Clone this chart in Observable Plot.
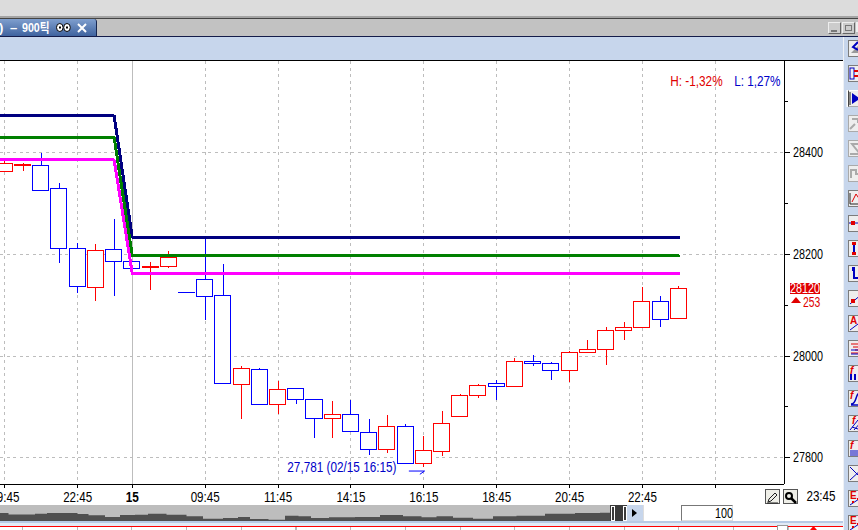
<!DOCTYPE html>
<html><head><meta charset="utf-8">
<script src="https://cdn.jsdelivr.net/npm/d3@7"></script>
<script src="https://cdn.jsdelivr.net/npm/@observablehq/plot@0.6"></script>
<style>
html,body{margin:0;padding:0;background:#fff;overflow:hidden}
body{width:858px;height:530px;position:relative;font-family:"Liberation Sans",sans-serif}
.a{position:absolute}
#chart svg,#nav svg{display:block;overflow:hidden}
.btn{position:absolute;left:848px;width:14px;height:15px;background:#eee;border:1.5px solid #7c7c7c;border-right:none;box-sizing:content-box}
.btn svg{position:absolute;left:0;top:0}
.nar{display:inline-block;transform:scaleX(.77);transform-origin:0 50%;white-space:nowrap}
</style></head><body>
<div class="a" style="left:0;top:0;width:858px;height:16px;background:#dcdcdc"></div>
<div class="a" style="left:0;top:16px;width:858px;height:2px;background:#a4a4a4"></div>
<div class="a" style="left:0;top:18px;width:858px;height:1px;background:#444"></div>
<div class="a" style="left:0;top:19px;width:858px;height:17px;background:#c2c2c2"></div>
<div class="a" style="left:0;top:19px;width:96px;height:17px;background:linear-gradient(#7f9fce,#3f639f);border-right:1px solid #16264f;border-radius:0 3px 0 0;overflow:hidden;color:#fff;font:bold 13px 'Liberation Sans','Noto Sans CJK KR',sans-serif;line-height:17px;white-space:nowrap">
 <span class="a" style="left:-1px;top:0">)</span>
 <span class="a" style="left:10px;top:0">&#8211;</span>
 <span class="a" style="left:22px;top:0;transform:scaleX(.82);transform-origin:0 50%">900틱</span>
 <svg class="a" style="left:56px;top:3px" width="15" height="11"><ellipse cx="3.8" cy="5.5" rx="3.3" ry="4" fill="#fff" stroke="#000"/><ellipse cx="11" cy="5.5" rx="3.3" ry="4" fill="#fff" stroke="#000"/><rect x="3" y="4.5" width="2" height="2"/><rect x="10" y="4.5" width="2" height="2"/></svg>
 <svg class="a" style="left:77px;top:4px" width="10" height="10"><path d="M1 1L9 9M9 1L1 9" stroke="#fff" stroke-width="2"/></svg>
</div>
<div class="a" style="left:0;top:36px;width:858px;height:1px;background:#141c4a"></div>
<div class="a" style="left:0;top:37px;width:858px;height:23px;background:#c7d6ec"></div>
<div class="a" style="left:0;top:60px;width:843px;height:1px;background:#000"></div>
<div class="a" style="left:843px;top:37px;width:1px;height:493px;background:#eef1f6"></div>
<div class="a" style="left:844px;top:37px;width:14px;height:493px;background:#c7d6ec"></div>
<div class="a" style="left:828px;top:22px;width:11px;height:10px;background:#ccc;border:1px solid #888;border-color:#eee #666 #666 #eee"><div class="a" style="left:2px;top:7px;width:6px;height:2px;background:#777"></div></div>
<div class="a" style="left:842px;top:22px;width:11px;height:10px;background:#ccc;border:1px solid #888;border-color:#eee #666 #666 #eee"><div class="a" style="left:2px;top:2px;width:5px;height:4px;border:1px solid #777"></div></div>
<div class="a" style="left:856px;top:22px;width:2px;height:10px;background:#eee"></div>

<div id="chart" class="a" style="left:0;top:61px"></div>
<div id="nav" class="a" style="left:0;top:505px"></div>

<div class="a" style="left:610px;top:505px;width:17px;height:16px;background:#3a3a3a"></div>
<div class="a" style="left:611px;top:506px;width:2px;height:13px;background:#3a3a3a;border:1px solid #fff"></div>
<div class="a" style="left:623px;top:506px;width:2px;height:13px;background:#3a3a3a;border:1px solid #fff"></div>
<div class="a" style="left:627px;top:505px;width:16px;height:16px;background:#c7d6ec;border-right:1px solid #ddd"></div>
<svg class="a" style="left:630px;top:508px" width="10" height="10"><path d="M2 1L7 5L2 9Z"/></svg>
<div class="a" style="left:681px;top:505px;width:50px;height:14px;background:#fff;border:1px solid;border-color:#777 #ddd #ddd #777;font-size:14px;line-height:15px"><span class="a nar" style="left:33px;top:0">100</span></div>
<div class="a" style="left:0;top:521px;width:843px;height:1.5px;background:#b7cbe6"></div>
<div class="a" style="left:0;top:522.5px;width:843px;height:3px;background:#e3eaf5"></div>
<div class="a" style="left:0;top:526px;width:843px;height:1px;background:#f00"></div>
<div class="a" style="left:22px;top:527px;width:800px;height:3px;background:repeating-linear-gradient(90deg,#bbb 0,#bbb 1px,transparent 1px,transparent 54.7px)"></div>
<div class="a" style="left:777px;top:525px;width:9px;height:5px;background:#fff;border:1px solid #999"></div>
<svg class="a" style="left:810px;top:526px" width="7" height="4"><path d="M0 4L3.5 0L7 4Z" fill="#f00"/></svg>

<div class="a" style="left:765px;top:489px;width:13px;height:13px;background:#efefe8;border:1px solid #555">
 <svg width="13" height="13"><path d="M2 11L3 8L9 2L11 4L5 10Z" fill="none" stroke="#222"/><path d="M1 12H12" stroke="#222"/></svg></div>
<div class="a" style="left:783px;top:489px;width:13px;height:13px;background:#efefe8;border:1px solid #555">
 <svg width="13" height="13"><circle cx="5" cy="5" r="3" fill="none" stroke="#000" stroke-width="2"/><path d="M7 7L12 12" stroke="#000" stroke-width="2.5"/></svg></div>

<div class="a" style="left:790px;top:283px;width:30px;height:11px;background:#e00000;color:#fff;font-size:14px;line-height:11px;overflow:hidden"><span class="a nar" style="left:0;top:0">28120</span></div>
<svg class="a" style="left:791px;top:297px" width="10" height="6"><path d="M0 6L5 0L10 6Z" fill="#e00000"/></svg>
<div class="a nar" style="left:803px;top:295px;color:#e00000;font-size:14px;line-height:12px;margin-top:1px;transform:scaleX(.74)">253</div>
<div id="tools"></div>

<script>
// candle index, prices
const candleIndex = d3.range(38);
const opens  = [28362,28374,28374,28329,28211,28134,28209,28186,28174,28176,28125,28150,28119,27944,27973,27904,27936,27914,27877,27885,27849,27816,27861,27788,27812,27881,27922,27946,27940,27989,27985,27971,28006,28012,28050,28056,28107,28073];
const closes = [28377,28376,28325,28211,28136,28207,28186,28172,28176,28194,28124.5,28117,27946,27975,27904,27934,27914,27877,27885,27851,27816,27861,27788,27814,27867,27922,27942,27940,27989,27985,27971,28006,28012,28050,28056,28107,28071,28132];
const highs  = [28383,28378,28399,28340,28222,28220,28269,28186,28184,28205,28125,28231,28180,27980,27976,27951,27936,27914,27911,27913,27875,27883,27865,27841,27891,27924,27944,27953,27995,28001,27987,28010,28030,28056,28066,28135,28117,28137];
const lows   = [28362,28364,28325,28183,28124,28108,28118,28172,28130,28173,28124.5,28070,27946,27876,27904,27886,27905,27838,27838,27849,27805,27809,27788,27781,27803,27881,27916,27913,27940,27980,27953,27949,28005,27982,28030,28054,28056,28073];

// three level lines
const lineIndex = [-1,6,7,37];
const navyLine    = [28473,28473,28233,28233];
const greenLine   = [28430,28430,28197,28197];
const magentaLine = [28386,28386,28162,28162];

// axis labels
const timeTicks  = [0,4,11,15,19,23,27,31,35];
const timeLabels = ["09:45","22:45","09:45","11:45","14:15","16:15","18:45","20:45","22:45"];
const dayTick = [7], dayLabel = ["15"];
const blankTick = [39], lastTimeLabel = "23:45";
const priceTicks = [28400,28200,28000,27800];
const minorPriceTicks = [28500,28300,28100,27900];

// overview strip at the bottom (volume-like profile)
const navX = [0,17,33,37,57,75,80,97,113,127,143,153,180,193,213,233,243,257,280,290,307,315,343,367,393,413,430,443,463,483,503,530,560,590,610,627];
const navV = [8,6.5,6.5,7.3,8,8,7,5.7,4,6,6.3,7.3,6.3,4.7,2.3,3,4,2,1.3,5.3,4.7,3,3.7,4,6,4.7,3.7,4.7,3.3,2.3,4.7,5.3,7.3,8,8.3,8.3];

const candles = candleIndex.map(i => ({i, o:opens[i], c:closes[i], h:highs[i], l:lows[i]}));
const colorOf = d => d.c >= d.o ? "#ff0000" : "#0000ff";
const W = 845, PR = 61.5;
const levelLine = (vals, color) => Plot.line(lineIndex.map((x,k)=>({x,y:vals[k]})),
  {x:"x", y:"y", stroke:color, strokeWidth:3, strokeLinejoin:"miter", curve:"linear", shapeRendering:"crispEdges"});
const font = "'Liberation Sans',sans-serif";
const labelOf = new Map(timeTicks.map((t,k)=>[t,timeLabels[k]]));

const chart = Plot.plot({
  width: W, height: 450,
  marginLeft: 0, marginRight: PR, marginTop: 0, marginBottom: 27.5,
  style: {background:"transparent", fontFamily:font, fontSize:"14px", color:"#000"},
  x: {type:"linear", domain:[-0.236,42.77], label:null},
  y: {type:"linear", domain:[27748.5,28579.6], label:null},
  marks: [
    Plot.ruleX([...timeTicks, ...blankTick], {stroke:"#bdbdbd", strokeDasharray:"3,3.5", strokeWidth:1, shapeRendering:"crispEdges"}),
    Plot.ruleX(dayTick, {stroke:"#bdbdbd", strokeWidth:1, shapeRendering:"crispEdges"}),
    Plot.ruleY(priceTicks, {stroke:"#bdbdbd", strokeDasharray:"3,3.5", strokeWidth:1, shapeRendering:"crispEdges"}),
    Plot.ruleX(candles, {x:"i", y1:"l", y2:"h", stroke:colorOf, strokeWidth:1, shapeRendering:"crispEdges"}),
    Plot.rect(candles, {x1:d=>d.i-0.44, x2:d=>d.i+0.44, y1:"o", y2:"c", fill:"#fff", stroke:colorOf, strokeWidth:1, shapeRendering:"crispEdges"}),
    levelLine(navyLine,"#000080"),
    levelLine(greenLine,"#008000"),
    levelLine(magentaLine,"#ff00ff"),
    Plot.ruleX([42.77], {stroke:"#000", strokeWidth:1, shapeRendering:"crispEdges"}),
    Plot.ruleY([27748.5], {stroke:"#000", strokeWidth:1, shapeRendering:"crispEdges"}),
    Plot.axisY(priceTicks, {anchor:"right", tickSize:5, tickPadding:4, tickFormat:d=>String(d), fontSize:14, label:null, stroke:"#000", fill:"#000", shapeRendering:"crispEdges"}),
    Plot.axisY(minorPriceTicks, {anchor:"right", tickSize:3, tickFormat:()=>"", label:null, stroke:"#000", shapeRendering:"crispEdges"}),
    Plot.axisX([...timeTicks, ...blankTick], {anchor:"bottom", tickSize:4, tickPadding:4, tickFormat:d=>labelOf.get(d)||"", fontSize:14, label:null, stroke:"#000", fill:"#000", shapeRendering:"crispEdges"}),
    Plot.axisX(dayTick, {anchor:"bottom", tickSize:4, tickPadding:4, tickFormat:(d,k)=>dayLabel[k], fontSize:14, fontWeight:"bold", label:null, stroke:"#000", fill:"#000", shapeRendering:"crispEdges"}),
    Plot.text([lastTimeLabel], {x:[44.8], y:[27748.5], text:d=>d, dy:12.5, fontSize:14, fill:"#000", clip:false}),
    Plot.text(["27,781 (02/15 16:15)"], {x:[21.5], y:[27780], text:d=>d, textAnchor:"end", fontSize:14, fill:"#0000c8"}),
    Plot.line([{x:22.2,y:27774},{x:23.04,y:27774},{x:22.8,y:27768}], {x:"x",y:"y",stroke:"#0000ff",strokeWidth:1,curve:"linear"}),
    Plot.text(["H: -1,32%"], {x:[39.4], y:[28541], text:d=>d, textAnchor:"end", fontSize:14, fill:"#e00000"}),
    Plot.text(["L: 1,27%"], {x:[42.58], y:[28541], text:d=>d, textAnchor:"end", fontSize:14, fill:"#0000c8"})
  ]
});
document.getElementById("chart").append(chart);
// the original's bitmap font is narrow: condense every label horizontally
chart.querySelectorAll("text").forEach(t => {
  const len = t.getComputedTextLength();
  if (!(len > 0)) return;
  const s = t.textContent;
  const factor = /^\d{5}$/.test(s) ? 0.77 : /^\d\d:\d\d$/.test(s) ? 0.83 : 0.84;
  t.setAttribute("textLength", (len*factor).toFixed(1));
  t.setAttribute("lengthAdjust","spacingAndGlyphs");
});

const nav = Plot.plot({
  width: 627, height: 16, margin: 0,
  style: {background:"#bdbdbd"},
  x: {type:"linear", domain:[0,627], axis:null},
  y: {type:"linear", domain:[0,16], axis:null},
  marks: [Plot.areaY(navX.map((x,k)=>({x,y:navV[k]})), {x:"x", y:"y", fill:"#505050", curve:"step"})]
});
document.getElementById("nav").append(nav);

// side toolbar
const toolTops = [40,65,90,115,140,165,190,215,240,265,290,315,340,365,390,415,440,465,490,515];
const glyphs = [
 '<path d="M2 12L11 3V12Z" fill="#999"/><path d="M9 1L4 6L9 9" fill="none" stroke="#0000c0" stroke-width="2"/>',
 '<rect x="1" y="2" width="4" height="11" fill="none" stroke="#0000c0"/><path d="M5 5H13M5 10H13" stroke="#e00000" stroke-width="2"/>',
 '<path d="M3 2V13L11 7.5Z" fill="#0000c0"/><path d="M1 1V14" stroke="#222"/>',
 '<path d="M1 13L6 8M3 3H9V7" fill="none" stroke="#aaa" stroke-width="2"/>',
 '<path d="M1 13H11L3 3H11" fill="none" stroke="#aaa" stroke-width="2"/>',
 '<path d="M2 12V4H7V8H12" fill="none" stroke="#aaa" stroke-width="2"/>',
 '<path d="M1 2V13H13" fill="none" stroke="#222"/><path d="M3 11L7 3L11 9" fill="none" stroke="#e00000"/>',
 '<path d="M0 7H12" stroke="#0000c0"/><rect x="2" y="5" width="4" height="4" fill="#e00000"/>',
 '<path d="M5 3V12" stroke="#0000c0" stroke-width="2"/><rect x="3" y="1" width="4" height="3" fill="#e00000"/><rect x="3" y="11" width="4" height="3" fill="#e00000"/>',
 '<path d="M5 1V12H13" stroke="#0000c0" fill="none" stroke-width="2"/><rect x="3" y="1" width="3" height="4" fill="#0000c0"/>',
 '<path d="M1 13L13 3" stroke="#0000c0"/><rect x="2" y="8" width="4" height="4" fill="#e00000"/>',
 '<text x="1" y="8" font-size="10" font-weight="bold" fill="#e00000">A</text><path d="M1 14L13 5" stroke="#0000c0"/>',
 '<path d="M2 3H13M4 6H13M6 9H13M2 12H13" stroke="#e00000"/><path d="M2 9H13M2 13H13" stroke="#0000c0"/>',
 '<text x="1" y="8" font-size="10" font-weight="bold" font-style="italic" fill="#e00000">f</text><path d="M2 14V8M6 14V8M10 14V5" stroke="#0000c0" stroke-width="2"/>',
 '<text x="1" y="8" font-size="10" font-weight="bold" font-style="italic" fill="#e00000">f</text><path d="M2 13C8 13 6 4 10 2M2 14H13" fill="none" stroke="#0000c0" stroke-width="1.5"/>',
 '<text x="3" y="8" font-size="10" font-weight="bold" font-style="italic" fill="#e00000">f</text><path d="M1 14L9 4M5 14L13 5M3 11L9 13" stroke="#0000c0"/>',
 '<text x="1" y="8" font-size="10" font-weight="bold" font-style="italic" fill="#e00000">f</text><path d="M1 10H13M1 12H13M1 14H13" stroke="#0000c0"/>',
 '<path d="M1 1L13 13M1 14L13 3" stroke="#0000c0"/>',
 '<text x="1" y="8" font-size="10" font-weight="bold" fill="#e00000">E</text><path d="M1 14L13 6" stroke="#0000c0"/><rect x="3" y="10" width="2" height="2" fill="#e00000"/><rect x="8" y="7" width="2" height="2" fill="#e00000"/>',
 '<text x="1" y="8" font-size="10" font-weight="bold" fill="#e00000">E</text><path d="M1 14L13 6" stroke="#0000c0"/><rect x="3" y="10" width="2" height="2" fill="#e00000"/><rect x="8" y="7" width="2" height="2" fill="#e00000"/>'
];
document.getElementById("tools").innerHTML = toolTops.map((t,k)=>
  `<div class="btn" style="top:${t}px${k===2?';box-shadow:-1.5px 0 0 #fff;border-color:#fff #aaa #aaa #444':''}${k>=3&&k<=5?';border-color:#aaa':''}"><svg width="14" height="15">${glyphs[k]}</svg></div>`).join("");
</script>
</body></html>
